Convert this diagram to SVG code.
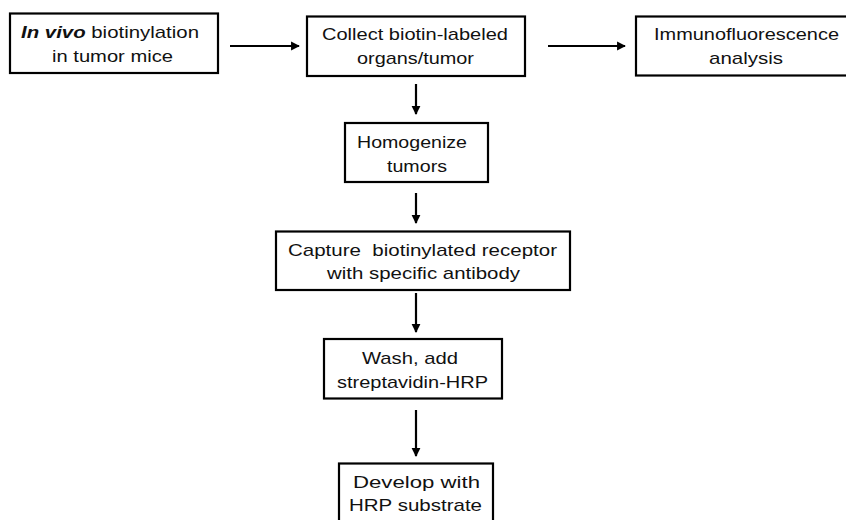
<svg xmlns="http://www.w3.org/2000/svg" width="846" height="520" viewBox="0 0 846 520">
<style>
.box{fill:#fff;stroke:#000;stroke-width:2.2}
.t{font-family:"Liberation Sans",Arial,sans-serif;font-size:17px;fill:#111;text-anchor:middle}
.c{stroke:#000;stroke-width:2.2;fill:none}
</style>
<defs>
<marker id="ah" viewBox="0 0 10 10" refX="9" refY="5" markerWidth="4" markerHeight="5" markerUnits="strokeWidth" orient="auto">
<path d="M0,0 L10,5 L0,10 Z" fill="#000"/>
</marker>
</defs>
<rect width="846" height="520" fill="#fff"/>
<g id="connectors">
<line class="c" x1="230" y1="46" x2="299" y2="46" marker-end="url(#ah)"/>
<line class="c" x1="548" y1="46" x2="625" y2="46" marker-end="url(#ah)"/>
<line class="c" x1="416" y1="84" x2="416" y2="114" marker-end="url(#ah)"/>
<line class="c" x1="416" y1="193" x2="416" y2="223" marker-end="url(#ah)"/>
<line class="c" x1="416" y1="293" x2="416" y2="332" marker-end="url(#ah)"/>
<line class="c" x1="416" y1="410" x2="416" y2="456" marker-end="url(#ah)"/>
</g>
<g id="n1">
<rect class="box" x="10" y="13.5" width="208" height="59.5"/>
<text class="t" x="110" y="38" textLength="178" lengthAdjust="spacingAndGlyphs"><tspan font-weight="bold" font-style="italic">In vivo</tspan> biotinylation</text>
<text class="t" x="112.5" y="62" textLength="121" lengthAdjust="spacingAndGlyphs">in tumor mice</text>
</g>
<g id="n2">
<rect class="box" x="307" y="16.5" width="218" height="59.5"/>
<text class="t" x="415" y="40" textLength="186" lengthAdjust="spacingAndGlyphs">Collect biotin-labeled</text>
<text class="t" x="415.5" y="64" textLength="117" lengthAdjust="spacingAndGlyphs">organs/tumor</text>
</g>
<g id="n3">
<rect class="box" x="636" y="16.5" width="220" height="59"/>
<text class="t" x="746.5" y="39.5" textLength="185" lengthAdjust="spacingAndGlyphs">Immunofluorescence</text>
<text class="t" x="746" y="64" textLength="74" lengthAdjust="spacingAndGlyphs">analysis</text>
</g>
<g id="n4">
<rect class="box" x="345" y="123" width="143" height="59"/>
<text class="t" x="412" y="148" textLength="110" lengthAdjust="spacingAndGlyphs">Homogenize</text>
<text class="t" x="417" y="172" textLength="60" lengthAdjust="spacingAndGlyphs">tumors</text>
</g>
<g id="n5">
<rect class="box" x="276" y="231.5" width="294" height="58.5"/>
<text class="t" x="422.5" y="256" textLength="269" lengthAdjust="spacingAndGlyphs" xml:space="preserve">Capture  biotinylated receptor</text>
<text class="t" x="423.5" y="279" textLength="193" lengthAdjust="spacingAndGlyphs">with specific antibody</text>
</g>
<g id="n6">
<rect class="box" x="324" y="339" width="178" height="59.5"/>
<text class="t" x="410" y="364" textLength="96" lengthAdjust="spacingAndGlyphs">Wash, add</text>
<text class="t" x="412.5" y="388" textLength="151" lengthAdjust="spacingAndGlyphs">streptavidin-HRP</text>
</g>
<g id="n7">
<rect class="box" x="339" y="463.5" width="154" height="62"/>
<text class="t" x="416.5" y="488" textLength="127" lengthAdjust="spacingAndGlyphs">Develop with</text>
<text class="t" x="415.5" y="511" textLength="133" lengthAdjust="spacingAndGlyphs">HRP substrate</text>
</g>
</svg>
